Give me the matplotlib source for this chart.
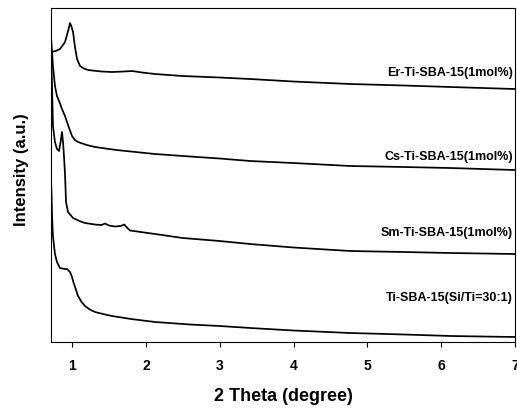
import matplotlib
matplotlib.use("Agg")
import matplotlib.pyplot as plt

plt.rcParams["font.family"] = ["Liberation Sans", "DejaVu Sans"]
plt.rcParams["font.weight"] = "bold"

# Leituras aproximadas do grafico (2 theta em graus, intensidade em u.a.)
er_x = [0.715, 0.780, 0.837, 0.905, 0.950, 0.973, 0.990, 1.014, 1.040, 1.068, 1.109,
        1.160, 1.217, 1.400, 1.543, 1.700, 1.814, 1.950, 2.126, 2.500, 3.000, 3.415,
        4.000, 4.772, 5.500, 6.129, 7.0]
er_y = [290, 291, 293, 300, 312, 319, 316, 310, 295, 283, 276,
        273.5, 272, 270.5, 270, 270.5, 271, 269.5, 268, 266, 264.5, 263,
        260.5, 258, 256.5, 255, 253]

cs_x = [0.715, 0.742, 0.769, 0.796, 0.830, 0.864, 0.900, 0.932, 0.970, 1.000, 1.040,
        1.081, 1.200, 1.312, 1.600, 2.126, 2.600, 3.000, 3.415, 4.000, 4.772, 5.500,
        6.129, 7.0]
cs_y = [306, 276, 256, 246, 240, 233, 227, 220, 212, 206, 202,
        200, 197, 195, 192, 188, 185.5, 183.5, 181, 179, 176, 175,
        174, 172]

sm_x = [0.715, 0.728, 0.742, 0.769, 0.796, 0.824, 0.845, 0.864, 0.878, 0.891, 0.905,
        0.919, 0.946, 1.014, 1.100, 1.176, 1.312, 1.400, 1.448, 1.500, 1.583, 1.660,
        1.706, 1.750, 1.787, 2.126, 2.500, 3.000, 3.415, 4.000, 4.772, 5.500, 6.129, 7.0]
sm_y = [300, 260, 216, 200, 193, 191, 200, 210, 200, 186, 168,
        140, 130, 124, 121, 119, 117.5, 117, 118.5, 116.5, 115.5, 116,
        117.5, 114, 111.5, 108, 104, 101, 98, 94.5, 91, 90, 89, 88]

ti_x = [0.715, 0.722, 0.730, 0.742, 0.769, 0.796, 0.837, 0.900, 0.932, 0.973, 1.000,
        1.014, 1.050, 1.081, 1.130, 1.176, 1.240, 1.312, 1.420, 1.543, 1.800, 2.126,
        2.600, 3.000, 3.415, 4.000, 4.772, 5.500, 6.129, 7.0]
ti_y = [161, 150, 125, 106, 88, 80, 74, 73, 73, 70, 65,
        61, 53, 46, 40, 36, 32.5, 30, 28, 26, 23, 20,
        17.5, 16, 14, 11.5, 9, 7.5, 6, 5]

series = [
    (er_x, er_y, "Er-Ti-SBA-15(1mol%)", 270),
    (cs_x, cs_y, "Cs-Ti-SBA-15(1mol%)", 186),
    (sm_x, sm_y, "Sm-Ti-SBA-15(1mol%)", 110),
    (ti_x, ti_y, "Ti-SBA-15(Si/Ti=30:1)", 45),
]

fig = plt.figure(figsize=(5.17, 4.10), dpi=100)
ax = fig.add_axes([0.0986, 0.1634, 0.8975, 0.8146])

for xs, ys, nome, y_txt in series:
    ax.plot(xs, ys, color="black", linewidth=1.25)
    ax.text(6.975, y_txt, nome, ha="right", va="center", fontsize=9, fontweight="bold")

ax.set_xlim(0.715, 7)
ax.set_ylim(0, 334)
ax.set_xticks([1, 2, 3, 4, 5, 6, 7])
ax.set_yticks([])
ax.tick_params(axis="x", direction="out", length=3.5, width=0.8, pad=8, labelsize=10)
for lbl in ax.get_xticklabels():
    lbl.set_fontweight("bold")
for sp in ax.spines.values():
    sp.set_linewidth(0.8)

ax.set_xlabel("2 Theta (degree)", fontsize=13, fontweight="bold")
ax.xaxis.set_label_coords(0.5, -0.135)
ax.set_ylabel("Intensity (a.u.)", fontsize=12, fontweight="bold")
ax.yaxis.set_label_coords(-0.047, 0.52)

fig.savefig("out.png", dpi=100)
